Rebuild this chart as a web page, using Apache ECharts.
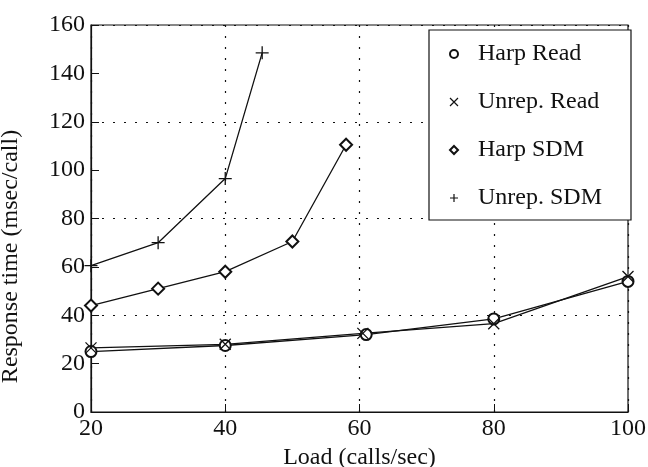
<!DOCTYPE html>
<html>
<head>
<meta charset="utf-8">
<script src="https://cdn.jsdelivr.net/npm/echarts@6/dist/echarts.min.js"></script>
<style>
  html, body { margin: 0; padding: 0; background: #fff; }
  #chart { width: 648px; height: 467px; }
</style>
</head>
<body>
<div id="chart"></div>
<script>
// values: [load, response time]
const harpRead = [[20, 25], [40, 27.5], [61, 32], [80, 38.5], [100, 54]]
const unrepRead = [[20, 26.5], [40, 28], [60.5, 32.5], [80, 36.5], [100, 56]]
const harpSdm = [[20, 44], [30, 51], [40, 58], [50, 70.5], [58, 110.5]]
const unrepSdm = [[20, 60.5], [30, 70], [40, 96.5], [45.5, 148.5]]

const seriesNames = ['Harp Read', 'Unrep. Read', 'Harp SDM', 'Unrep. SDM']
const xTicks = [20, 40, 60, 80, 100]

const font = 'Liberation Serif, Times New Roman, serif'
const crossPath = 'path://M0,0L10,10M10,0L0,10'
const plusPath = 'path://M5,0L5,10M0,5L10,5'

const symbols = ['emptyCircle', crossPath, 'emptyDiamond', plusPath]
const symbolSizes = [11, 11, 12, 13]
const seriesData = [harpRead, unrepRead, harpSdm, unrepSdm]

const chart = echarts.init(document.getElementById('chart'))

const series = seriesNames.map((name, i) => {
  return {
    name: name,
    type: 'line',
    data: seriesData[i],
    symbol: symbols[i],
    symbolSize: symbolSizes[i],
    showAllSymbol: true,
    lineStyle: { color: '#111', width: 1.3 },
    itemStyle: { color: '#111', borderColor: '#111', borderWidth: 1.3 },
    emphasis: { disabled: true },
    z: 3,
  }
})

const option = {
  animation: false,
  backgroundColor: '#fff',
  textStyle: { fontFamily: font, color: '#111' },
  grid: {
    left: 91,
    right: 20,
    top: 25,
    bottom: 55,
    outerBoundsMode: 'none',
    containLabel: false,
    show: true,
    borderColor: '#111',
    borderWidth: 1.2,
    backgroundColor: 'transparent',
  },
  legend: {
    orient: 'vertical',
    left: 429,
    top: 30,
    padding: [12, 29, 10, 20],
    itemGap: 24,
    itemWidth: 8,
    itemHeight: 8,
    backgroundColor: '#fff',
    borderColor: '#111',
    borderWidth: 1.2,
    borderRadius: 0,
    selectedMode: false,
    textStyle: { fontFamily: font, fontSize: 24, color: '#111', padding: [0, 0, 0, 15] },
    data: seriesNames.map((name, i) => ({
      name: name,
      icon: symbols[i],
      itemStyle: { color: '#111', borderColor: '#111', borderWidth: 1.2 },
    })),
    z: 10,
  },
  xAxis: {
    type: 'value',
    min: 20,
    max: 100,
    interval: 20,
    name: 'Load (calls/sec)',
    nameLocation: 'middle',
    nameGap: 31,
    nameTextStyle: { fontFamily: font, fontSize: 24, color: '#111' },
    axisLine: { show: true, lineStyle: { color: '#111', width: 1.2 } },
    axisTick: { show: true, inside: true, length: 8, lineStyle: { color: '#111' } },
    axisLabel: {
      fontFamily: font,
      fontSize: 24,
      color: '#111',
      margin: 5,
      formatter: (v) => (xTicks.includes(v) ? String(v) : ''),
    },
    splitLine: { show: true, lineStyle: { color: '#111', type: [2, 9], width: 1.2 } },
  },
  yAxis: [
    {
      type: 'value',
      min: 0,
      max: 160,
      interval: 20,
      name: 'Response time (msec/call)',
      nameLocation: 'middle',
      nameGap: 68,
      nameTextStyle: { fontFamily: font, fontSize: 24, color: '#111', padding: [0, 76, 0, 0] },
      axisLine: { show: true, lineStyle: { color: '#111', width: 1.2 } },
      axisTick: { show: true, inside: true, length: 8, lineStyle: { color: '#111' } },
      axisLabel: { fontFamily: font, fontSize: 24, color: '#111', margin: 6 },
      splitLine: { show: false },
    },
    {
      // second axis only for the dotted grid at every 40
      type: 'value',
      min: 0,
      max: 160,
      interval: 40,
      position: 'left',
      axisLine: { show: false },
      axisTick: { show: false },
      axisLabel: { show: false },
      splitLine: { show: true, lineStyle: { color: '#111', type: [2, 9], width: 1.2 } },
    },
  ],
  series: series,
}

chart.setOption(option)
</script>
</body>
</html>
